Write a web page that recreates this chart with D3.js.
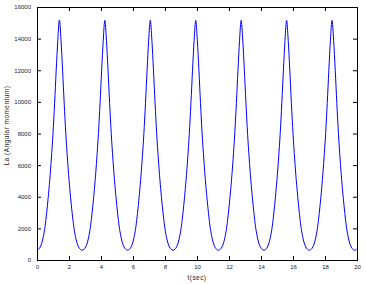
<!DOCTYPE html>
<html>
<head>
<meta charset="utf-8">
<script src="https://cdn.jsdelivr.net/npm/d3@7"></script>
<style>
  body { margin: 0; background: #fff; }
  .tick-label { font-family: "Liberation Sans", Arial, sans-serif; font-size: 6px; fill: #222; }
  .axis-label { font-family: "Liberation Sans", Arial, sans-serif; font-size: 6.5px; fill: #222; letter-spacing: 0.45px; }
</style>
</head>
<body>
<div id="chart"></div>
<script>
// time (sec), one line per oscillation
const times = [
  0.00, 0.10, 0.20, 0.30, 0.40, 0.50, 0.60, 0.70, 0.80, 0.90, 1.00, 1.10, 1.20, 1.30, 1.40, 1.50, 1.60, 1.70, 1.80, 1.90, 2.00, 2.10, 2.20, 2.30, 2.40, 2.50, 2.60, 2.70, 2.82,
  2.94, 3.04, 3.14, 3.24, 3.34, 3.44, 3.54, 3.64, 3.74, 3.84, 3.94, 4.04, 4.14, 4.24, 4.34, 4.44, 4.54, 4.64, 4.74, 4.84, 4.94, 5.04, 5.14, 5.24, 5.34, 5.44, 5.54, 5.66,
  5.78, 5.88, 5.98, 6.08, 6.18, 6.28, 6.38, 6.48, 6.58, 6.68, 6.78, 6.88, 6.98, 7.08, 7.18, 7.28, 7.38, 7.48, 7.58, 7.68, 7.78, 7.88, 7.98, 8.08, 8.18, 8.28, 8.38, 8.50,
  8.62, 8.72, 8.82, 8.92, 9.02, 9.12, 9.22, 9.32, 9.42, 9.52, 9.62, 9.72, 9.82, 9.92, 10.02, 10.12, 10.22, 10.32, 10.42, 10.52, 10.62, 10.72, 10.82, 10.92, 11.02, 11.12, 11.22, 11.34,
  11.46, 11.56, 11.66, 11.76, 11.86, 11.96, 12.06, 12.16, 12.26, 12.36, 12.46, 12.56, 12.66, 12.76, 12.86, 12.96, 13.06, 13.16, 13.26, 13.36, 13.46, 13.56, 13.66, 13.76, 13.86, 13.96, 14.06, 14.18,
  14.30, 14.40, 14.50, 14.60, 14.70, 14.80, 14.90, 15.00, 15.10, 15.20, 15.30, 15.40, 15.50, 15.60, 15.70, 15.80, 15.90, 16.00, 16.10, 16.20, 16.30, 16.40, 16.50, 16.60, 16.70, 16.80, 16.90, 17.02,
  17.14, 17.24, 17.34, 17.44, 17.54, 17.64, 17.74, 17.84, 17.94, 18.04, 18.14, 18.24, 18.34, 18.44, 18.54, 18.64, 18.74, 18.84, 18.94, 19.04, 19.14, 19.24, 19.34, 19.44, 19.54, 19.64, 19.74, 19.86,
  20.00
];

// La (angular momentum)
const laValues = [
  640, 680, 820, 1080, 1500, 2100, 2950, 3950, 5100, 6450, 8000, 9900, 12000, 13900, 15180, 13900, 12000, 9900, 8000, 6450, 5100, 3950, 2950, 2100, 1500, 1080, 820, 680, 620,
  680, 820, 1080, 1500, 2100, 2950, 3950, 5100, 6450, 8000, 9900, 12000, 13900, 15150, 13900, 12000, 9900, 8000, 6450, 5100, 3950, 2950, 2100, 1500, 1080, 820, 680, 620,
  680, 820, 1080, 1500, 2100, 2950, 3950, 5100, 6450, 8000, 9900, 12000, 13900, 15150, 13900, 12000, 9900, 8000, 6450, 5100, 3950, 2950, 2100, 1500, 1080, 820, 680, 620,
  680, 820, 1080, 1500, 2100, 2950, 3950, 5100, 6450, 8000, 9900, 12000, 13900, 15150, 13900, 12000, 9900, 8000, 6450, 5100, 3950, 2950, 2100, 1500, 1080, 820, 680, 620,
  680, 820, 1080, 1500, 2100, 2950, 3950, 5100, 6450, 8000, 9900, 12000, 13900, 15150, 13900, 12000, 9900, 8000, 6450, 5100, 3950, 2950, 2100, 1500, 1080, 820, 680, 620,
  680, 820, 1080, 1500, 2100, 2950, 3950, 5100, 6450, 8000, 9900, 12000, 13900, 15150, 13900, 12000, 9900, 8000, 6450, 5100, 3950, 2950, 2100, 1500, 1080, 820, 680, 620,
  680, 820, 1080, 1500, 2100, 2950, 3950, 5100, 6450, 8000, 9900, 12000, 13900, 15150, 13900, 12000, 9900, 8000, 6450, 5100, 3950, 2950, 2100, 1500, 1080, 820, 680, 620,
  720
];

const xTicks = [0, 2, 4, 6, 8, 10, 12, 14, 16, 18, 20];
const yTicks = [0, 2000, 4000, 6000, 8000, 10000, 12000, 14000, 16000];

const width = 366, height = 284;
const margin = {top: 7, right: 9, bottom: 24, left: 37};
const innerW = width - margin.left - margin.right;
const innerH = height - margin.top - margin.bottom;
const tickLen = 4;

const data = times.map((t, i) => ({t: t, la: laValues[i]}));

const svg = d3.select('#chart').append('svg')
    .attr('width', width)
    .attr('height', height);

svg.append('rect')
    .attr('width', width)
    .attr('height', height)
    .attr('fill', '#fff');

const chart = svg.append('g')
    .attr('transform', `translate(${margin.left},${margin.top})`);

const xScale = d3.scaleLinear().domain([0, 20]).range([0, innerW]);
const yScale = d3.scaleLinear().domain([0, 16000]).range([innerH, 0]);

// gnuplot style: ticks pointing inward on all four sides
const xAxisBottom = d3.axisBottom(xScale).tickValues(xTicks).tickSize(-tickLen).tickPadding(5).tickFormat(d3.format('d'));
const xAxisTop = d3.axisTop(xScale).tickValues(xTicks).tickSize(-tickLen).tickFormat('');
const yAxisLeft = d3.axisLeft(yScale).tickValues(yTicks).tickSize(-tickLen).tickPadding(6).tickFormat(d3.format('d'));
const yAxisRight = d3.axisRight(yScale).tickValues(yTicks).tickSize(-tickLen).tickFormat('');

function styleAxis(g) {
  g.select('.domain').remove();
  g.selectAll('.tick line').attr('stroke', '#000');
  g.selectAll('.tick text').attr('class', 'tick-label').attr('font-size', null).attr('font-family', null);
}

chart.append('g').attr('transform', `translate(0,${innerH})`).call(xAxisBottom).call(styleAxis);
chart.append('g').call(xAxisTop).call(styleAxis);
chart.append('g').call(yAxisLeft).call(styleAxis);
chart.append('g').attr('transform', `translate(${innerW},0)`).call(yAxisRight).call(styleAxis);

chart.append('rect')
    .attr('x', 0.5)
    .attr('y', 0.5)
    .attr('width', innerW)
    .attr('height', innerH)
    .attr('fill', 'none')
    .attr('stroke', '#000');

const line = d3.line()
    .x(d => xScale(d.t))
    .y(d => yScale(d.la))
    .curve(d3.curveMonotoneX);

chart.append('path')
    .datum(data)
    .attr('fill', 'none')
    .attr('stroke', '#0000ff')
    .attr('stroke-width', 1)
    .attr('d', line);

svg.append('text')
    .attr('class', 'axis-label')
    .attr('x', margin.left + innerW / 2)
    .attr('y', 280)
    .attr('text-anchor', 'middle')
    .text('t(sec)');

svg.append('text')
    .attr('class', 'axis-label')
    .attr('transform', `translate(9,${margin.top + innerH / 2 - 8}) rotate(-90)`)
    .attr('text-anchor', 'middle')
    .text('La (Angular momentum)');
</script>
</body>
</html>
